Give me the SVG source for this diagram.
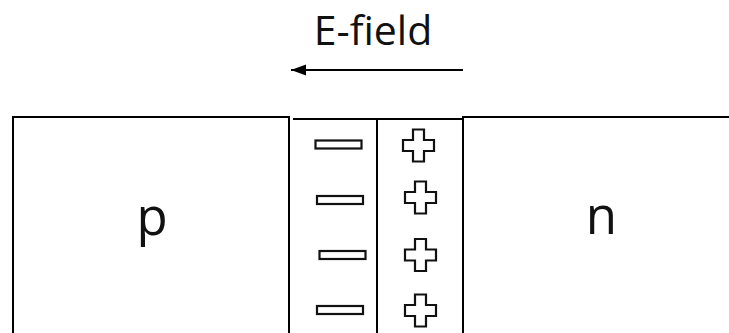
<svg xmlns="http://www.w3.org/2000/svg" width="729" height="333" viewBox="0 0 729 333">
  <style>
    .edge { fill: none; stroke: #000; stroke-width: 2; }
    .charge { fill: #fff; stroke: #111; stroke-width: 2.2; }
    .label { font-family: "Open Sans", "Liberation Sans", sans-serif; fill: #111; text-anchor: middle; }
  </style>
  <defs>
    <marker id="head" markerWidth="16" markerHeight="12" refX="15" refY="6" orient="auto" markerUnits="userSpaceOnUse">
      <path d="M0,0.5 L15,6 L0,11.5 Z" fill="#000"/>
    </marker>
    <path id="plus" class="charge" d="M-5.5,-16 H5.5 V-5.5 H15.5 V5.5 H5.5 V16 H-5.5 V5.5 H-15.5 V-5.5 H-5.5 Z"/>
    <rect id="minus" class="charge" x="-23" y="-4" width="46" height="8"/>
  </defs>
  <rect width="729" height="333" fill="#fff"/>

  <!-- field direction -->
  <g id="efield">
    <text class="label" x="373" y="45" font-size="41">E-field</text>
    <line class="edge" x1="463" y1="70" x2="291" y2="70" marker-end="url(#head)"/>
  </g>

  <!-- p-type side -->
  <g id="p-region">
    <path class="edge" d="M13,340 V117 H289 V340"/>
    <text class="label" x="152" y="235" font-size="51">p</text>
  </g>

  <!-- depletion layer -->
  <g id="depletion">
    <line class="edge" x1="293" y1="119" x2="463" y2="119"/>
    <line class="edge" x1="377" y1="119" x2="377" y2="340"/>
    <use href="#minus" x="338.5" y="144.5"/>
    <use href="#minus" x="340" y="200"/>
    <use href="#minus" x="342.5" y="255"/>
    <use href="#minus" x="340" y="310"/>
    <use href="#plus" x="418.5" y="145.5"/>
    <use href="#plus" x="420.5" y="197.5"/>
    <use href="#plus" x="420.5" y="255"/>
    <use href="#plus" x="420.5" y="310.5"/>
  </g>

  <!-- n-type side -->
  <g id="n-region">
    <path class="edge" d="M463,340 V117 H740"/>
    <text class="label" x="601.5" y="234" font-size="51">n</text>
  </g>
</svg>
